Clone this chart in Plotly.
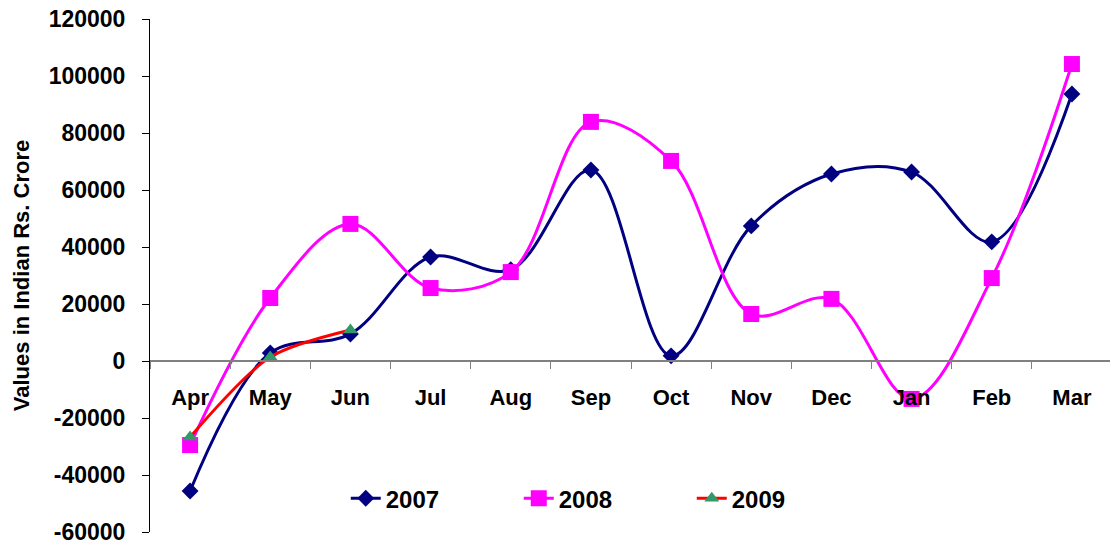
import plotly.graph_objects as go

months = ["Apr", "May", "Jun", "Jul", "Aug", "Sep", "Oct", "Nov", "Dec", "Jan", "Feb", "Mar"]
v2007 = [-45600, 2800, 9500, 36500, 32000, 67000, 1800, 47400, 65600, 66300, 41800, 93700]
v2008 = [-29500, 22100, 48100, 25600, 31200, 83900, 70200, 16500, 21800, -13300, 29100, 104200]
months2009 = ["Apr", "May", "Jun"]
v2009 = [-26700, 1400, 10900]
y_ticks = [-60000, -40000, -20000, 0, 20000, 40000, 60000, 80000, 100000, 120000]

FONT = "Arial, Liberation Sans, sans-serif"

fig = go.Figure()
fig.add_trace(go.Scatter(
    x=months, y=v2007, name="2007", mode="lines+markers",
    line=dict(color="#000080", width=3, shape="spline", smoothing=1),
    marker=dict(symbol="diamond", size=13, color="#000080"),
))
fig.add_trace(go.Scatter(
    x=months, y=v2008, name="2008", mode="lines+markers",
    line=dict(color="#FF00FF", width=3, shape="spline", smoothing=1),
    marker=dict(symbol="square", size=16, color="#FF00FF"),
))
fig.add_trace(go.Scatter(
    x=months2009, y=v2009, name="2009", mode="lines+markers",
    line=dict(color="#FF0000", width=3, shape="spline", smoothing=0.8),
    marker=dict(symbol="triangle-up", size=13, color="#339966"),
))

# page body has an 8px default margin, so the figure is offset by 8px
fig.update_layout(
    width=1110, height=533,
    margin=dict(l=142, r=6, t=11, b=9, autoexpand=False),
    paper_bgcolor="white", plot_bgcolor="white",
    font=dict(family=FONT, size=22, color="black", weight="bold"),
    showlegend=True,
    legend=dict(
        orientation="h", x=0.2035, y=0.065, xanchor="left", yanchor="middle",
        font=dict(family=FONT, size=24, color="black", weight="bold"),
        bgcolor="rgba(0,0,0,0)", entrywidth=128, itemwidth=30,
    ),
    xaxis=dict(
        type="category", categoryorder="array", categoryarray=months,
        range=[-0.5, 11.5], automargin=False,
        anchor="free", position=1/3,
        showline=True, linecolor="#808080", linewidth=2,
        ticks="outside", tickson="boundaries", ticklen=7, tickcolor="#808080", tickwidth=1,
        ticklabelstandoff=17,
        showgrid=False, zeroline=False,
        tickfont=dict(family=FONT, size=22, color="black", weight="bold"),
    ),
    yaxis=dict(
        domain=[0, 1], automargin=False,
        range=[-60000, 120000],
        tickvals=y_ticks, ticktext=[str(v) for v in y_ticks],
        showline=True, linecolor="black", linewidth=1,
        ticks="outside", ticklen=7, tickcolor="black",
        ticklabelstandoff=12, ticklabeloverflow="allow",
        showgrid=False, zeroline=False,
        tickfont=dict(family=FONT, size=23, color="black", weight="bold"),
        title=dict(text="Values in Indian Rs. Crore", standoff=12,
                   font=dict(family=FONT, size=22, color="black", weight="bold")),
    ),
)

fig.write_html("out.html")
